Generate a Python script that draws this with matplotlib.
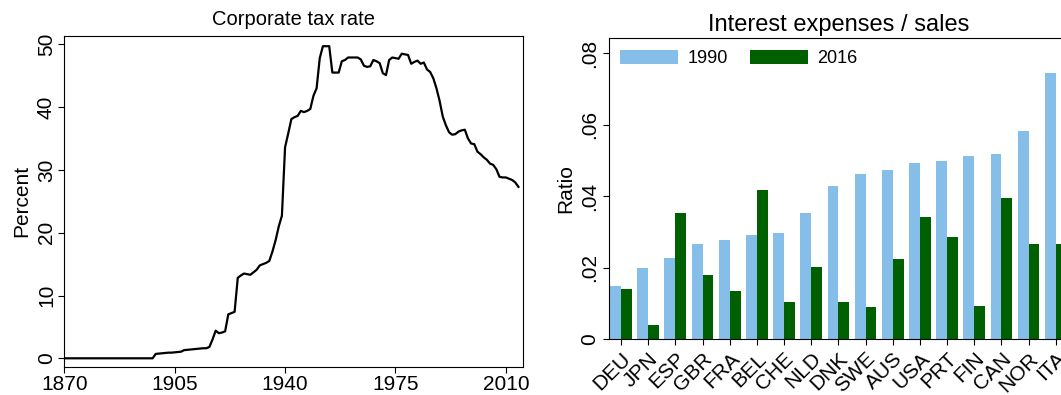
import matplotlib
matplotlib.use("Agg")
import matplotlib.pyplot as plt
import numpy as np

plt.rcParams['font.family'] = ['Liberation Sans', 'DejaVu Sans']

# Corporate tax rate (percent), one value per year
tax_years = list(range(1870, 2015))
tax_rate = [0.0] * 28 + [
    0.0, 0.7, 0.75, 0.8, 0.85, 0.9, 0.9, 0.95, 1.0, 1.05,            # 1898-1907
    1.3, 1.35, 1.4, 1.45, 1.5, 1.55, 1.6, 1.6, 1.8, 3.0,             # 1908-1917
    4.4, 4.0, 4.1, 4.3, 7.0, 7.2, 7.4, 12.8, 13.2, 13.5,             # 1918-1927
    13.4, 13.3, 13.7, 14.1, 14.8, 15.0, 15.2, 15.5, 17.0, 18.8,      # 1928-1937
    21.0, 22.7, 33.6, 35.8, 38.1, 38.4, 38.6, 39.4, 39.2, 39.4,      # 1938-1947
    39.7, 41.8, 43.0, 47.8, 49.7, 49.7, 49.7, 45.5, 45.5, 45.5,      # 1948-1957
    47.3, 47.5, 47.9, 47.9, 47.9, 47.9, 47.6, 46.6, 46.4, 46.5,      # 1958-1967
    47.5, 47.3, 47.0, 45.4, 45.1, 47.5, 47.9, 47.8, 47.7, 48.5,      # 1968-1977
    48.4, 48.3, 46.9, 47.2, 47.4, 46.9, 47.1, 46.0, 45.6, 44.6,      # 1978-1987
    43.0, 41.0, 38.5, 37.1, 36.0, 35.6, 35.7, 36.1, 36.3, 36.4,      # 1988-1997
    35.0, 34.2, 34.1, 32.9, 32.5, 32.0, 31.6, 31.0, 30.8, 30.1,      # 1998-2007
    28.9, 28.8, 28.8, 28.6, 28.4, 28.0, 27.3,                        # 2008-2014
]
tax_xticks = [1870, 1905, 1940, 1975, 2010]
tax_yticks = [0, 10, 20, 30, 40, 50]

# Interest expenses / sales
countries = ['DEU', 'JPN', 'ESP', 'GBR', 'FRA', 'BEL', 'CHE', 'NLD', 'DNK',
             'SWE', 'AUS', 'USA', 'PRT', 'FIN', 'CAN', 'NOR', 'ITA']
ratio_1990 = [0.0149, 0.0199, 0.0228, 0.0267, 0.0278, 0.0292, 0.0297, 0.0353, 0.0429,
              0.0462, 0.0474, 0.0493, 0.0499, 0.0513, 0.0518, 0.0583, 0.0745]
ratio_2016 = [0.0141, 0.0040, 0.0354, 0.0181, 0.0135, 0.0418, 0.0103, 0.0203, 0.0104,
              0.0090, 0.0225, 0.0342, 0.0286, 0.0093, 0.0395, 0.0267, 0.0267]
ratio_yticks = [0, 0.02, 0.04, 0.06, 0.08]
ratio_ylabels = ['0', '.02', '.04', '.06', '.08']

fig = plt.figure(figsize=(10.61, 3.95), dpi=100)

# --- left panel
ax1 = fig.add_axes([0.0606, 0.0716, 0.4319, 0.838])
ax1.plot(tax_years, tax_rate, color='black', linewidth=1.6)
ax1.set_xlim(1870, 2015.3)
ax1.set_ylim(-1.34, 51.37)
ax1.set_xticks(tax_xticks)
ax1.set_yticks(tax_yticks)
ax1.tick_params(labelsize=15, length=4, width=0.8, direction='out', pad=2)
plt.setp(ax1.get_yticklabels(), rotation=90, va='center')
ax1.set_ylabel('Percent', fontsize=15, labelpad=4)
ax1.set_title('Corporate tax rate', fontsize=14.5, pad=8)
for s in ax1.spines.values():
    s.set_linewidth(0.8)

# --- right panel
ax2 = fig.add_axes([0.5743, 0.141, 0.4318, 0.764])
x = np.arange(len(countries))
w = 0.4
ax2.bar(x - w / 2, ratio_1990, width=w, color='#85BFE9', label='1990')
ax2.bar(x + w / 2, ratio_2016, width=w, color='#006000', label='2016')
ax2.set_xlim(-0.43, len(countries) - 1 + 0.43)
ax2.set_ylim(0, 0.0844)
ax2.set_xticks(x)
ax2.set_xticklabels(countries, rotation=45, ha='right', rotation_mode='anchor')
ax2.set_yticks(ratio_yticks)
ax2.set_yticklabels(ratio_ylabels, rotation=90, va='center')
ax2.tick_params(labelsize=15, length=4, width=0.8, direction='out', pad=3)
ax2.set_ylabel('Ratio', fontsize=15, labelpad=4)
ax2.set_title('Interest expenses / sales', fontsize=17, pad=5)
ax2.spines['right'].set_visible(False)
for s in ax2.spines.values():
    s.set_linewidth(0.8)
ax2.legend(loc='center left', bbox_to_anchor=(0.0234, 0.93), ncol=2, frameon=False,
           fontsize=13, handlelength=3.2, handleheight=0.85, handletextpad=0.55,
           columnspacing=1.2, borderpad=0, borderaxespad=0)

fig.savefig('out.png', dpi=100)
